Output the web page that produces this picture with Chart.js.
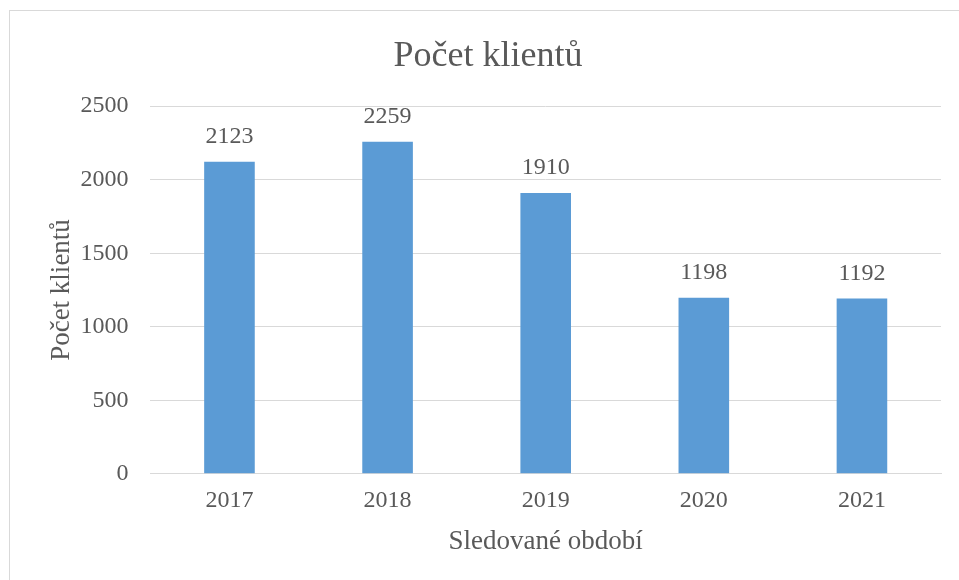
<!DOCTYPE html>
<html>
<head>
<meta charset="utf-8">
<script src="https://cdn.jsdelivr.net/npm/chart.js@4"></script>
<style>
  html, body { margin: 0; padding: 0; background: #fff; }
  #wrap { position: relative; width: 959px; height: 580px; overflow: hidden; }
  #frame { position: absolute; left: 9px; top: 10px; width: 960px; height: 580px; border: 1px solid #d9d9d9; box-sizing: border-box; }
  canvas { position: absolute; left: 0; top: 0; }
</style>
</head>
<body>
<div id="wrap">
  <div id="frame"></div>
  <canvas id="chart" width="959" height="580"></canvas>
</div>
<script>
// --- Data ---
const years = ["2017", "2018", "2019", "2020", "2021"];
const clients = [2123, 2259, 1910, 1198, 1192];
const yTicks = [0, 500, 1000, 1500, 2000, 2500];

const textColor = "#595959";
const fontFamily = "'Liberation Serif', 'Times New Roman', serif";

// draws the value above every bar
const valueLabels = {
  id: "valueLabels",
  afterDatasetsDraw(chart) {
    const ctx = chart.ctx;
    const meta = chart.getDatasetMeta(0);
    ctx.save();
    ctx.font = "24px " + fontFamily;
    ctx.fillStyle = textColor;
    ctx.textAlign = "center";
    ctx.textBaseline = "middle";
    meta.data.forEach((bar, i) => {
      ctx.fillText(String(clients[i]), bar.x, bar.y - 25);
    });
    ctx.restore();
  },
};

const ctx = document.getElementById("chart").getContext("2d");
new Chart(ctx, {
  type: "bar",
  data: {
    labels: years,
    datasets: [
      {
        label: "Počet klientů",
        data: clients,
        backgroundColor: "#5b9bd5",
        barPercentage: 0.64,
        categoryPercentage: 0.5,
      },
    ],
  },
  options: {
    responsive: false,
    animation: false,
    layout: { padding: { left: 35, right: 18, top: 35, bottom: 22 } },
    plugins: {
      legend: { display: false },
      tooltip: { enabled: false },
      title: {
        display: true,
        text: "Počet klientů",
        color: textColor,
        font: { family: fontFamily, size: 36, weight: "normal" },
        padding: { top: 0, bottom: 28 },
      },
    },
    scales: {
      y: {
        min: 0,
        max: 2500,
        afterBuildTicks: (axis) => {
          axis.ticks = yTicks.map((v) => ({ value: v }));
        },
        grid: { color: "#d9d9d9", lineWidth: 1, drawTicks: false },
        border: { display: false },
        ticks: {
          color: textColor,
          font: { family: fontFamily, size: 24 },
          padding: 22,
          callback: (v) => String(v),
        },
        title: {
          display: true,
          text: "Počet klientů",
          color: textColor,
          font: { family: fontFamily, size: 27 },
          padding: { top: 11, bottom: -20 },
        },
      },
      x: {
        grid: { display: false },
        border: { color: "#d9d9d9" },
        ticks: {
          color: textColor,
          font: { family: fontFamily, size: 24 },
          padding: 5,
        },
        title: {
          display: true,
          text: "Sledované období",
          color: textColor,
          font: { family: fontFamily, size: 27 },
          padding: { top: 5, bottom: 0 },
        },
      },
    },
  },
  plugins: [valueLabels],
});
</script>
</body>
</html>
